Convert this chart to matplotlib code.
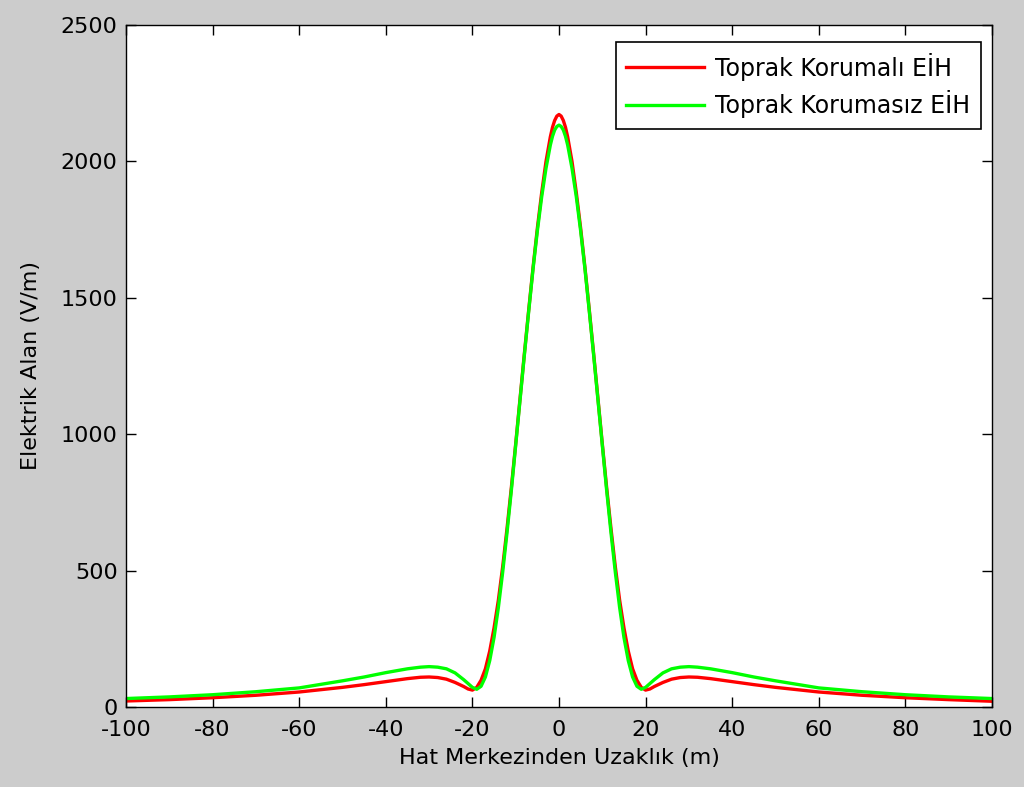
import numpy as np
import matplotlib.pyplot as plt

# Hat merkezinden uzaklik (m)
x = [-100, -90, -80, -70, -60, -50, -45, -40, -35, -32, -30, -28, -26, -24, -22, -21,
     -20, -19, -18, -17, -16, -15, -14, -13, -12, -11, -10, -9, -8, -7, -6, -5, -4,
     -3, -2, -1.5, -1, -0.5, 0, 0.5, 1, 1.5, 2, 3, 4, 5, 6, 7, 8, 9, 10, 11, 12, 13,
     14, 15, 16, 17, 18, 19, 20, 21, 22, 24, 26, 28, 30, 32, 35, 40, 45, 50, 60, 70,
     80, 90, 100]

# Toprak korumali EIH (V/m)
e_korumali = [22, 27, 34, 43, 55, 72, 82, 93, 104, 109, 110, 108, 102, 90, 75, 66,
              62, 72, 98, 140, 205, 290, 392, 515, 655, 805, 965, 1130, 1295, 1455,
              1610, 1755, 1885, 2000, 2090, 2125, 2150, 2166, 2172, 2166, 2150, 2125,
              2090, 2000, 1885, 1755, 1610, 1455, 1295, 1130, 965, 805, 655, 515, 392,
              290, 205, 140, 98, 72, 62, 66, 75, 90, 102, 108, 110, 109, 104, 93, 82,
              72, 55, 43, 34, 27, 21]

# Toprak korumasiz EIH (V/m)
e_korumasiz = [31, 37, 45, 56, 70, 96, 110, 126, 140, 146, 148, 146, 140, 125, 100, 86,
               72, 65, 76, 110, 170, 255, 365, 495, 640, 795, 960, 1125, 1290, 1450,
               1605, 1745, 1870, 1975, 2060, 2092, 2115, 2128, 2133, 2128, 2115, 2092,
               2060, 1975, 1870, 1745, 1605, 1450, 1290, 1125, 960, 795, 640, 495, 365,
               255, 170, 110, 76, 65, 72, 86, 100, 125, 140, 146, 148, 146, 140, 126,
               110, 96, 70, 56, 45, 37, 31]

plt.rcParams['font.family'] = ['DejaVu Sans']
plt.rcParams['font.size'] = 16
plt.rcParams['axes.unicode_minus'] = False

fig = plt.figure(figsize=(10.24, 7.87), dpi=100, facecolor='#cccccc')
ax = fig.add_axes([126/1024, 80/787, 866/1024, 682/787])
ax.set_facecolor('white')

ax.plot(x, e_korumali, color='#ff0000', lw=2.4, label='Toprak Korumalı EİH')
ax.plot(x, e_korumasiz, color='#00ff00', lw=2.4, label='Toprak Korumasız EİH')

ax.set_xlim(-100, 100)
ax.set_ylim(0, 2500)
ax.set_xticks(np.arange(-100, 101, 20))
ax.set_yticks(np.arange(0, 2501, 500))
ax.tick_params(direction='in', length=7, width=1, top=True, right=True,
               labelsize=16, pad=6)
ax.tick_params(axis='x', pad=9)
for s in ax.spines.values():
    s.set_linewidth(1)

ax.set_xlabel('Hat Merkezinden Uzaklık (m)', fontsize=16, labelpad=6)
ax.set_ylabel('Elektrik Alan (V/m)', fontsize=16, labelpad=14)

leg = ax.legend(loc='upper right', bbox_to_anchor=(0.987, 0.975), borderaxespad=0,
                fancybox=False, edgecolor='black', framealpha=1, handlelength=3.3,
                fontsize=17, borderpad=0.45, labelspacing=0.4, handletextpad=0.45)
leg.get_frame().set_linewidth(1.2)

fig.savefig('out.png', dpi=100, facecolor=fig.get_facecolor())
